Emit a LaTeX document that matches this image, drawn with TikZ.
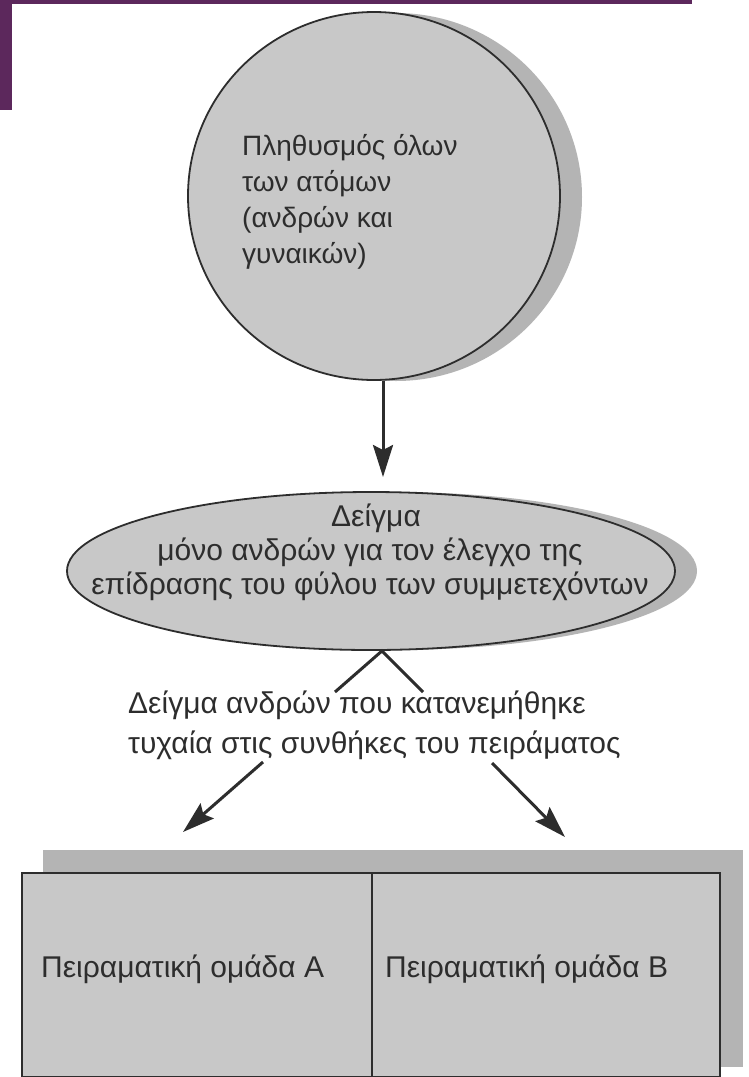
\documentclass[tikz,border=0pt]{standalone}
\usepackage{fontspec}
\setmainfont{Liberation Sans}
\usetikzlibrary{arrows.meta,shapes.geometric,calc}
\definecolor{fillg}{RGB}{200,200,200}
\definecolor{shadg}{RGB}{180,180,180}
\definecolor{ink}{RGB}{45,45,45}
\definecolor{purp}{RGB}{92,40,92}
\begin{document}
\begin{tikzpicture}[x=1pt,y=-1pt,
  txt/.style={inner sep=0pt, text=ink, font=\fontsize{30}{34}\selectfont},
  ctxt/.style={inner sep=0pt, text=ink, font=\fontsize{28}{34}\selectfont},
  outl/.style={draw=ink, line width=1.8pt, fill=fillg, inner sep=0pt},
  shad/.style={fill=shadg, draw=none},
  arr/.style={draw=ink, line width=3pt, -{Stealth[length=32pt,width=20pt,inset=5pt]}},
  link/.style={draw=ink, line width=3pt}]
\useasboundingbox (0,0) rectangle (748,1077);
\fill[white] (0,0) rectangle (748,1077);
% purple page marks
\fill[purp] (0,0) rectangle (692,4);
\fill[purp] (0,0) rectangle (12,110);
% shadows
\fill[shad] (396,197) ellipse [x radius=186, y radius=184];
\fill[shad] (393,571) ellipse [x radius=304, y radius=79];
\fill[shad] (43,850) rectangle (743,1067);
% population circle
\node[ellipse, outl, minimum width=372pt, minimum height=368pt] (pop) at (374,196) {};
\node[ctxt, anchor=base west] (p1) at (242,155) {Πληθυσμός όλων};
\node[ctxt, anchor=base west] (p2) at (242,191) {των ατόμων};
\node[ctxt, anchor=base west] (p3) at (242,227) {(ανδρών και};
\node[ctxt, anchor=base west] (p4) at (242,263) {γυναικών)};
% sample ellipse
\node[ellipse, outl, minimum width=608pt, minimum height=158pt] (sample) at (371,571) {};
\node[txt, anchor=base] (s1) at (376,526) {Δείγμα};
\node[txt, anchor=base] (s2) at (370,560) {μόνο ανδρών για τον έλεγχο της};
\node[txt, anchor=base] (s3) at (370,594) {επίδρασης του φύλου των συμμετεχόντων};
% random assignment text
\node[txt, anchor=base west] (r1) at (128,713) {Δείγμα ανδρών που κατανεμήθηκε};
\node[txt, anchor=base west] (r2) at (128,753) {τυχαία στις συνθήκες του πειράματος};
% groups
\node[rectangle, outl, anchor=north west, minimum width=350pt, minimum height=204pt] (grpA) at (21,872) {};
\node[rectangle, outl, anchor=north west, minimum width=348pt, minimum height=204pt] (grpB) at (371,872) {};
\node[txt, anchor=base west] (ga) at (41,977) {Πειραματική ομάδα Α};
\node[txt, anchor=base west] (gb) at (385,977) {Πειραματική ομάδα Β};
% connectors
\coordinate (tipS) at (383,477);
\draw[arr] ([xshift=9pt]pop.south) -- (tipS);
\coordinate (apex) at ([xshift=11pt]sample.south);
\coordinate (splitL) at (335,692);
\coordinate (splitR) at (423,692);
\draw[link, line join=miter] (splitL) -- (apex) -- (splitR);
\coordinate (startL) at (263,762);
\coordinate (tipL) at (183,832);
\coordinate (startR) at (492,763);
\coordinate (tipR) at (565,837);
\draw[arr] (startL) -- (tipL);
\draw[arr] (startR) -- (tipR);
\end{tikzpicture}
\end{document}
